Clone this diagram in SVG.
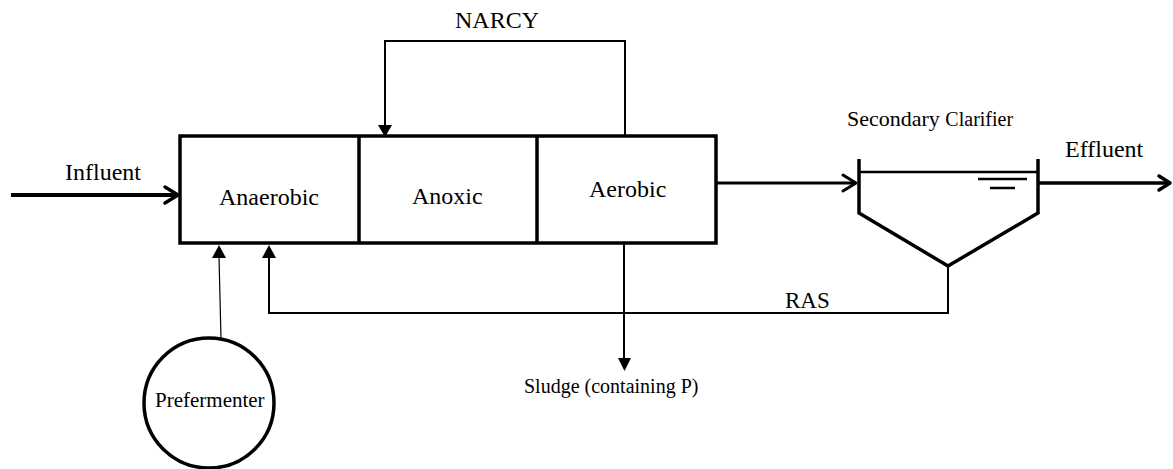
<svg xmlns="http://www.w3.org/2000/svg" width="1173" height="469" viewBox="0 0 1173 469">
<style>
  text { font-family: "Liberation Serif", "Times New Roman", serif; font-size: 24px; fill: #000; }
  .box { fill: #fff; stroke: #000; stroke-width: 3.5; stroke-linejoin: miter; }
  .thick { fill: none; stroke: #000; stroke-width: 3.5; stroke-linejoin: miter; }
  .mid { fill: none; stroke: #000; stroke-width: 2; }
  .thin { fill: none; stroke: #000; stroke-width: 1.2; }
  .chev { fill: none; stroke: #000; stroke-width: 3.5; stroke-linecap: round; stroke-linejoin: round; }
  .head { fill: #000; stroke: none; }
</style>
<rect width="1173" height="469" fill="#fff"/>
<g id="reactor">
  <rect class="box" x="180" y="136" width="536" height="107"/>
  <line class="thick" x1="359" y1="136" x2="359" y2="243"/>
  <line class="thick" x1="537" y1="136" x2="537" y2="243"/>
</g>
<g id="anaerobic"><text x="219" y="205">Anaerobic</text></g>
<g id="anoxic"><text x="412" y="204">Anoxic</text></g>
<g id="aerobic"><text x="589" y="197">Aerobic</text></g>
<g id="clarifier">
  <path class="thick" d="M859,159 V213 L948,266 L1038,213 V159"/>
  <line class="thick" x1="859" y1="172" x2="1038" y2="172" style="stroke-width:2.5"/>
  <line class="mid" x1="978" y1="179" x2="1027" y2="179" style="stroke-width:2.5"/>
  <line class="mid" x1="990" y1="188" x2="1015" y2="188" style="stroke-width:2.5"/>
  <text x="847" y="126" style="font-size:22px">Secondary <tspan style="font-size:20px">Clarifier</tspan></text>
</g>
<g id="prefermenter">
  <circle class="thick" cx="209" cy="403" r="65"/>
  <text x="155" y="407" style="font-size:21px">Prefermenter</text>
</g>
<g id="connectors">
  <!-- influent -->
  <line x1="11" y1="195" x2="178" y2="195" stroke="#000" stroke-width="4"/>
  <polyline class="chev" points="165,187 178,195 165,203"/>
  <text x="65" y="180">Influent</text>
  <!-- NARCY -->
  <polyline class="mid" points="625,136 625,41 385,41 385,126"/>
  <polygon class="head" points="378,125 392,125 385,137"/>
  <text x="455" y="28">NARCY</text>
  <!-- aerobic to clarifier -->
  <line x1="716" y1="183" x2="856" y2="183" stroke="#000" stroke-width="3"/>
  <polyline class="chev" points="843,175 856,183 843,191" style="stroke-width:3"/>
  <!-- effluent -->
  <line x1="1038" y1="183" x2="1170" y2="183" stroke="#000" stroke-width="3.5"/>
  <polyline class="chev" points="1159,176 1170,183 1159,190"/>
  <text x="1065" y="157">Effluent</text>
  <!-- RAS -->
  <polyline class="mid" points="948,266 948,313 269,313 269,257"/>
  <polygon class="head" points="262,258 276,258 269,245"/>
  <text x="785" y="308" style="font-size:23px">RAS</text>
  <!-- prefermenter feed -->
  <line class="thin" x1="221" y1="339" x2="219" y2="257"/>
  <polygon class="head" points="212,258 226,258 219,245"/>
  <!-- sludge -->
  <line class="mid" x1="624" y1="243" x2="624" y2="360"/>
  <polygon class="head" points="618,358 631,358 624.5,371"/>
  <text x="524" y="393" style="font-size:20px">Sludge (containing P)</text>
</g>
</svg>
